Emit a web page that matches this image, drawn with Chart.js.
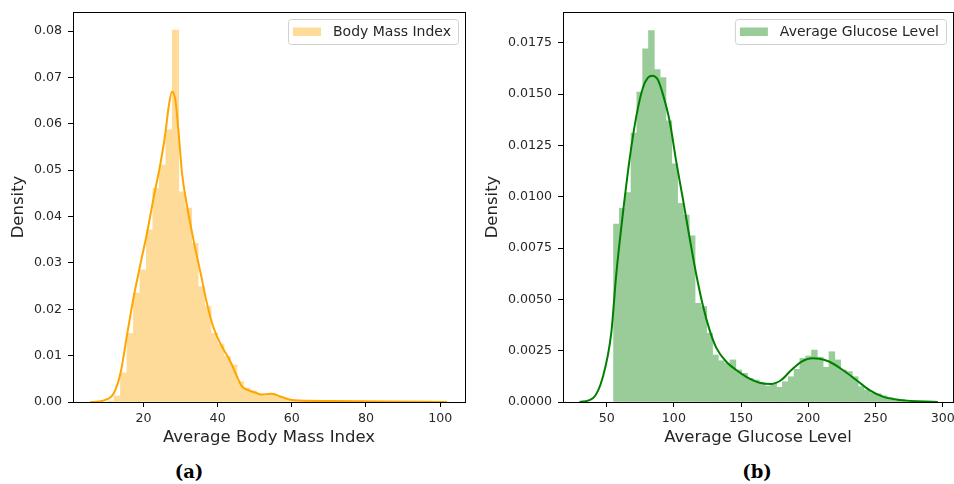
<!DOCTYPE html>
<html>
<head>
<meta charset="utf-8">
<script src="https://cdn.jsdelivr.net/npm/chart.js@4.4.1/dist/chart.umd.min.js"></script>
<style>
html,body{margin:0;padding:0;background:#fff;}
body{width:954px;height:484px;overflow:hidden;position:relative;}
canvas{position:absolute;top:0;}
#cA{left:0;}
#cB{left:480px;}
.cap{position:absolute;top:462px;width:60px;text-align:center;font-family:"DejaVu Serif","Liberation Serif",serif;font-weight:bold;font-size:18px;line-height:20px;color:#000;}
</style>
</head>
<body>
<canvas id="cA" width="475" height="455"></canvas>
<canvas id="cB" width="500" height="455"></canvas>
<div class="cap" style="left:159px;">(a)</div>
<div class="cap" style="left:727px;">(b)</div>
<script>
// ---------------- data ----------------
const bmiLabel = 'Body Mass Index';
const bmiAxisTitle = 'Average Body Mass Index';
const bmiRange = [10.3, 97.6];            // histogram range, 50 equal bins
const bmiDensity = [
  0.0002, 0.0013, 0.0063, 0.0148, 0.0235, 0.0285, 0.0371, 0.0461, 0.0511, 0.0587,
  0.0802, 0.0453, 0.0418, 0.0342, 0.0249, 0.0206, 0.0148, 0.0125, 0.0098, 0.0080,
  0.0044, 0.0030, 0.0024, 0.0017, 0.0017, 0.0019, 0.0011, 0.0006, 0.0004, 0.0003,
  0.0002, 0.0002, 0.0001, 0.0001, 0.0001, 0.0001, 0.0000, 0.0001, 0.0000, 0.0001,
  0.0000, 0.0000, 0.0001, 0.0000, 0.0000, 0.0000, 0.0000, 0.0001, 0.0000, 0.0001
];
const bmiKdeX = [5.7, 8.0, 10.2, 12.0, 13.8, 15.6, 17.4, 19.2, 21.0, 22.8, 24.6, 25.9, 26.8, 27.7, 28.6, 29.5, 30.4, 31.8, 33.5, 35.4, 37.2, 38.9, 41.2, 43.4, 45.2, 46.6, 48.4, 50.6, 52.0, 54.5, 56.9, 59.1, 62.0, 70.0, 85.0, 101.8];
const bmiKdeY = [0.0000, 0.0001, 0.0006, 0.0019, 0.0062, 0.0146, 0.0228, 0.0298, 0.0366, 0.0443, 0.0515, 0.0579, 0.0637, 0.0669, 0.0651, 0.0579, 0.0493, 0.0421, 0.0349, 0.0278, 0.0210, 0.0160, 0.0119, 0.0088, 0.0055, 0.0033, 0.0025, 0.0019, 0.0016, 0.0018, 0.0012, 0.0006, 0.0003, 0.0002, 0.0001, 0.0000];
const bmiXTicks = [20, 40, 60, 80, 100];
const bmiYTicks = [0, 0.01, 0.02, 0.03, 0.04, 0.05, 0.06, 0.07, 0.08];

const gluLabel = 'Average Glucose Level';
const gluAxisTitle = 'Average Glucose Level';
const gluRange = [55.12, 271.74];         // histogram range, 50 equal bins
const gluDensity = [
  0.00867, 0.00944, 0.0102, 0.0131, 0.0151, 0.0172, 0.0181, 0.0162, 0.0158, 0.0137,
  0.0116, 0.00968, 0.00911, 0.00809, 0.00481, 0.00465, 0.00335, 0.00229, 0.00201, 0.00188,
  0.00205, 0.00156, 0.00140, 0.00115, 0.00107, 0.00094, 0.00078, 0.00091, 0.00072, 0.00099,
  0.00123, 0.00159, 0.00213, 0.00224, 0.00253, 0.00218, 0.00169, 0.00245, 0.00205, 0.00156,
  0.00148, 0.00123, 0.00075, 0.00058, 0.00045, 0.00040, 0.00030, 0.00022, 0.00015, 0.00012
];
const gluKdeX = [29.8, 39.7, 47.2, 53.4, 57.1, 62.1, 67.0, 72.0, 76.9, 80.7, 83.9, 88.1, 91.8, 96.8, 101.8, 106.7, 111.7, 116.7, 121.6, 126.6, 131.5, 139.0, 146.4, 153.9, 163.8, 172.5, 179.9, 187.4, 194.8, 203.4, 208.4, 215.8, 225.7, 235.7, 245.6, 255.5, 267.9, 296.4];
const gluKdeY = [0.0, 0.00018, 0.00123, 0.00335, 0.0062, 0.0092, 0.0118, 0.0139, 0.0153, 0.0158, 0.0159, 0.0157, 0.0150, 0.0137, 0.0117, 0.0099, 0.0080, 0.0062, 0.0047, 0.0035, 0.00265, 0.00196, 0.00156, 0.00123, 0.00094, 0.00088, 0.00107, 0.00156, 0.00196, 0.00213, 0.00211, 0.00196, 0.00156, 0.00107, 0.00058, 0.00026, 0.0001, 0.0];
const gluXTicks = [50, 100, 150, 200, 250, 300];
const gluYTicks = [0, 0.0025, 0.005, 0.0075, 0.01, 0.0125, 0.015, 0.0175];

// ---------------- helpers ----------------
const FONT = '"DejaVu Sans", "Liberation Sans", sans-serif';
const TXT = '#262626';

function histPoints(range, dens) {
  const w = (range[1] - range[0]) / dens.length;
  return dens.map((y, i) => ({ x: range[0] + (i + 0.5) * w, y }));
}
function kdePoints(xs, ys) { return xs.map((x, i) => ({ x, y: ys[i] })); }

const axesFrame = {
  id: 'axesFrame',
  afterDraw(chart) {
    const { ctx, chartArea: a } = chart;
    ctx.save();
    // legend (matplotlib style, inside upper right)
    const ds = chart.data.datasets.find(d => d.type === 'bar');
    ctx.font = '14px ' + FONT;
    const tw = ctx.measureText(ds.label).width;
    const fr = a.right - 7, ft = a.top + 7, fh = 25;
    const fw = 5 + 28 + 12 + tw + 7;
    const fl = fr - fw;
    ctx.beginPath();
    ctx.roundRect(fl + 0.5, ft + 0.5, fw, fh, 3);
    ctx.fillStyle = 'rgba(255,255,255,0.8)';
    ctx.fill();
    ctx.strokeStyle = '#d0d0d0';
    ctx.lineWidth = 1;
    ctx.stroke();
    ctx.fillStyle = ds.backgroundColor;
    ctx.fillRect(fl + 5, ft + fh / 2 - 4, 28, 8.5);
    ctx.fillStyle = TXT;
    ctx.textBaseline = 'middle';
    ctx.textAlign = 'left';
    ctx.fillText(ds.label, fl + 5 + 28 + 12, ft + fh / 2 + 0.5);
    // spines
    ctx.strokeStyle = '#000';
    ctx.lineWidth = 1;
    ctx.strokeRect(a.left + 0.5, a.top + 0.5, a.right - a.left, a.bottom - a.top);
    ctx.restore();
  }
};

function makeChart(id, cfg) {
  const canvas = document.getElementById(id);
  return new Chart(canvas, {
    type: 'bar',
    data: {
      datasets: [
        {
          type: 'line',
          label: cfg.label + ' KDE',
          data: kdePoints(cfg.kdeX, cfg.kdeY),
          borderColor: cfg.lineColor,
          borderWidth: 2,
          pointRadius: 0,
          fill: false,
          cubicInterpolationMode: 'monotone',
          order: 0
        },
        {
          type: 'bar',
          label: cfg.label,
          data: histPoints(cfg.range, cfg.density),
          backgroundColor: cfg.barColor,
          borderWidth: 0,
          barPercentage: 1,
          categoryPercentage: 1,
          grouped: false,
          order: 1
        }
      ]
    },
    options: {
      responsive: false,
      animation: false,
      devicePixelRatio: 1,
      layout: { padding: { top: 12, right: cfg.padRight, bottom: 0, left: 0 } },
      plugins: { legend: { display: false }, tooltip: { enabled: false } },
      scales: {
        x: {
          type: 'linear',
          min: cfg.xMin, max: cfg.xMax,
          offset: false,
          border: { display: false },
          grid: { display: true, drawOnChartArea: false, drawTicks: true, tickLength: 5, color: '#000', tickColor: '#000', lineWidth: 1, offset: false },
          ticks: { autoSkip: false, maxRotation: 0, padding: 4, color: TXT, font: { family: FONT, size: 12.6 }, callback: v => String(v) },
          afterBuildTicks: s => { s.ticks = cfg.xTicks.map(v => ({ value: v })); },
          afterFit: s => { s.height = 53; s.paddingLeft = 0; s.paddingRight = 0; },
          title: { display: true, text: cfg.xTitle, color: TXT, font: { family: FONT, size: 16.5 }, padding: { top: 0, bottom: 7 } }
        },
        y: {
          type: 'linear',
          min: 0, max: cfg.yMax,
          border: { display: false },
          grid: { display: true, drawOnChartArea: false, drawTicks: true, tickLength: 5, color: '#000', tickColor: '#000', lineWidth: 1 },
          ticks: { autoSkip: false, padding: 6, color: TXT, font: { family: FONT, size: 12.6 }, callback: v => v.toFixed(cfg.yDigits) },
          afterBuildTicks: s => { s.ticks = cfg.yTicks.map(v => ({ value: v })); },
          afterFit: s => { s.width = cfg.yWidth; s.paddingTop = 0; s.paddingBottom = 0; },
          title: { display: true, text: 'Density', color: TXT, font: { family: FONT, size: 16.5 }, padding: { top: cfg.yTitlePad, bottom: 0 } }
        }
      }
    },
    plugins: [axesFrame]
  });
}

makeChart('cA', {
  label: bmiLabel, xTitle: bmiAxisTitle,
  range: bmiRange, density: bmiDensity, kdeX: bmiKdeX, kdeY: bmiKdeY,
  xTicks: bmiXTicks, yTicks: bmiYTicks, yDigits: 2,
  xMin: 1.0, xMax: 106.7, yMax: 0.0841,
  barColor: 'rgb(255,219,153)', lineColor: '#FFA500',
  yWidth: 73, padRight: 10, yTitlePad: 9
});

makeChart('cB', {
  label: gluLabel, xTitle: gluAxisTitle,
  range: gluRange, density: gluDensity, kdeX: gluKdeX, kdeY: gluKdeY,
  xTicks: gluXTicks, yTicks: gluYTicks, yDigits: 4,
  xMin: 17.5, xMax: 307.7, yMax: 0.0190,
  barColor: 'rgb(153,204,153)', lineColor: '#008000',
  yWidth: 83, padRight: 27, yTitlePad: 3
});
</script>
</body>
</html>
